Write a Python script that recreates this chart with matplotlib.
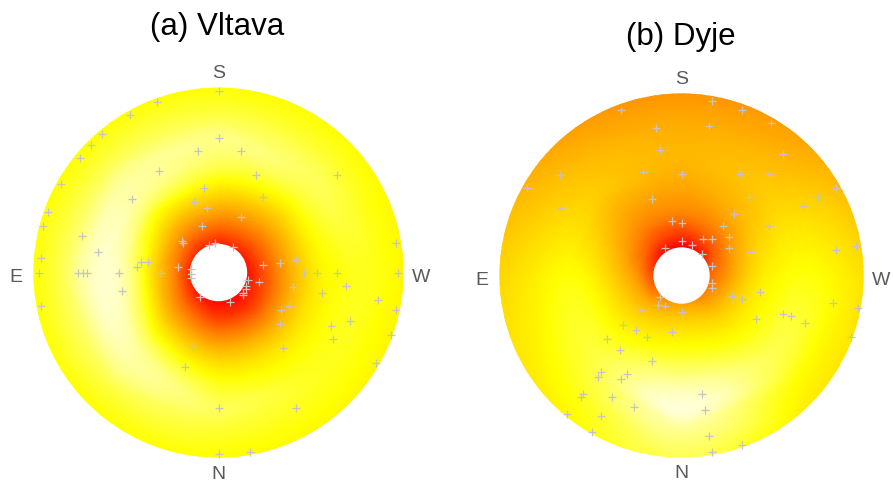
import numpy as np
import matplotlib
matplotlib.use("Agg")
import matplotlib.pyplot as plt
import matplotlib.tri as mtri
from matplotlib.colors import LinearSegmentedColormap
from matplotlib.patches import Circle

plt.rcParams["font.family"] = ["Liberation Sans", "DejaVu Sans"]

# =============================================================================
# DATA
# =============================================================================
# field values read on rings (radius, outer disc = 1) at 8 directions
# (degrees counter-clockwise from W, so 90 = S at top, 180 = E on the left)
angles_deg = [0, 45, 90, 135, 180, 225, 270, 315]
ring_r = [0.155, 0.25, 0.35, 0.45, 0.55, 0.65, 0.75, 0.85, 1.1]

vltava_field = [
    [0.05, 0.25, 0.45, 0.61, 0.72, 0.76, 0.78, 0.77, 0.70],
    [0.10, 0.30, 0.48, 0.63, 0.76, 0.83, 0.84, 0.80, 0.71],
    [0.10, 0.33, 0.52, 0.68, 0.81, 0.87, 0.88, 0.82, 0.71],
    [0.12, 0.37, 0.57, 0.74, 0.88, 0.92, 0.89, 0.82, 0.71],
    [0.12, 0.42, 0.64, 0.85, 0.95, 0.96, 0.91, 0.83, 0.71],
    [0.08, 0.32, 0.53, 0.72, 0.86, 0.92, 0.89, 0.82, 0.71],
    [0.03, 0.20, 0.42, 0.60, 0.73, 0.81, 0.84, 0.80, 0.71],
    [0.02, 0.18, 0.40, 0.58, 0.70, 0.76, 0.78, 0.77, 0.70],
]

dyje_field = [
    [0.30, 0.45, 0.60, 0.70, 0.74, 0.76, 0.75, 0.72, 0.62],
    [0.08, 0.30, 0.45, 0.54, 0.58, 0.60, 0.58, 0.55, 0.46],
    [0.00, 0.22, 0.40, 0.47, 0.52, 0.54, 0.53, 0.50, 0.40],
    [0.05, 0.28, 0.42, 0.50, 0.56, 0.60, 0.58, 0.55, 0.45],
    [0.22, 0.45, 0.58, 0.68, 0.74, 0.75, 0.72, 0.68, 0.60],
    [0.40, 0.55, 0.66, 0.74, 0.80, 0.82, 0.80, 0.77, 0.68],
    [0.48, 0.62, 0.72, 0.80, 0.88, 0.95, 0.97, 0.90, 0.80],
    [0.40, 0.55, 0.66, 0.74, 0.80, 0.84, 0.82, 0.76, 0.66],
]

# events (x: towards W, y: towards S, disc radius = 1)
vltava_x = [0.00, -0.33, -0.48, -0.63, -0.69, 0.00, -0.11, -0.75, -0.32, -0.85,
            -0.08, -0.47, -0.13, -0.06, -0.92, -0.09, -0.95, -0.74, -0.20, -0.19,
            -0.05, -0.02, -0.65, -0.96, -0.42, -0.38, -0.44, -0.22, -0.15, -0.15,
            -0.15, -0.97, -0.76, -0.73, -0.71, -0.54, -0.31, 0.12, 0.20, 0.64,
            0.24, 0.12, 0.08, 0.96, 0.24, 0.33, 0.42, 0.46, 0.53, 0.64,
            0.97, 0.16, 0.15, 0.15, 0.13, 0.13, 0.22, 0.40, 0.56, 0.69,
            0.86, 0.96, 0.38, 0.34, 0.71, 0.33, 0.61, 0.93, 0.62, 0.35,
            0.85, 0.42, 0.17, -0.52, -0.96, -0.10, 0.06, -0.14, -0.18, 0.00,
            0.00]
vltava_y = [0.98, 0.92, 0.85, 0.75, 0.69, 0.73, 0.66, 0.62, 0.55, 0.48,
            0.46, 0.40, 0.38, 0.35, 0.33, 0.25, 0.25, 0.20, 0.17, 0.16,
            0.15, 0.16, 0.11, 0.08, 0.06, 0.06, 0.03, 0.03, 0.02, -0.01,
            -0.03, 0.00, 0.00, 0.00, 0.00, 0.00, 0.00, 0.66, 0.53, 0.53,
            0.41, 0.30, 0.14, 0.16, 0.04, 0.05, 0.07, 0.00, 0.00, 0.00,
            0.00, -0.04, -0.07, -0.09, -0.11, -0.12, -0.05, -0.08, -0.11, -0.07,
            -0.15, -0.20, -0.18, -0.20, -0.26, -0.28, -0.29, -0.34, -0.36, -0.41,
            -0.49, -0.73, -0.97, -0.10, -0.18, -0.13, -0.16, -0.40, -0.51, -0.73,
            -0.98]

dyje_x = [0.29, -0.05, 0.00, 0.23, 0.00, 0.12, 0.17, 0.26, 0.26, 0.06,
          -0.09, 0.11, 0.17, 0.17, 0.17, 0.28, 0.33, -0.12, -0.13, -0.09,
          -0.22, 0.00, -0.32, -0.25, -0.05, -0.33, -0.14, -0.12, -0.21, 0.00,
          -0.67, -0.85, -0.16, -0.66, 0.17, 0.33, 0.49, 0.15, 0.56, 0.32,
          0.48, 0.85, 0.37, 0.75, 0.67, 0.48, 0.38, 0.85, 0.96, -0.19,
          -0.41, -0.34, -0.16, -0.44, -0.46, -0.30, -0.33, -0.54, -0.55, -0.38,
          -0.26, -0.63, -0.44, -0.49, 0.43, 0.41, 0.56, 0.60, 0.68, 0.83,
          0.97, 0.93, 0.11, 0.13, 0.15, 0.33, 0.17]
dyje_y = [0.34, 0.30, 0.29, 0.27, 0.19, 0.20, 0.20, 0.21, 0.15, 0.17,
          0.15, 0.12, 0.05, -0.04, -0.07, -0.11, -0.13, -0.12, -0.16, -0.17,
          -0.19, -0.20, -0.27, -0.30, -0.31, 0.91, 0.81, 0.69, 0.57, 0.56,
          0.55, 0.48, 0.42, 0.37, 0.96, 0.91, 0.84, 0.82, 0.67, 0.56,
          0.56, 0.48, 0.43, 0.43, 0.38, 0.27, 0.13, 0.14, 0.16, -0.34,
          -0.35, -0.41, -0.47, -0.53, -0.56, -0.54, -0.57, -0.65, -0.67, -0.67,
          -0.72, -0.76, -0.77, -0.86, -0.09, -0.24, -0.21, -0.22, -0.26, -0.15,
          -0.18, -0.34, -0.65, -0.74, -0.88, -0.93, -0.97]

titles = ["(a) Vltava", "(b) Dyje"]
compass = ["S", "N", "E", "W"]

# =============================================================================
# STYLE
# =============================================================================
hole_r = 0.155
heat = LinearSegmentedColormap.from_list(
    "heat", [(0.0, "#ff0000"), (0.75, "#ffff00"), (1.0, "#fffff0")]
)
label_color = "#5a5a5a"
cross_color = "#c4c4c4"


def draw_panel(ax, field, px, py):
    na, nr = len(angles_deg), len(ring_r)
    th = np.deg2rad(angles_deg)
    R, TH = np.meshgrid(ring_r, th)
    x = (R * np.cos(TH)).ravel()
    y = (R * np.sin(TH)).ravel()
    z = np.asarray(field, dtype=float).ravel()

    tris = []
    for i in range(na):
        i2 = (i + 1) % na
        for j in range(nr - 1):
            a, b = i * nr + j, i * nr + j + 1
            c, d = i2 * nr + j, i2 * nr + j + 1
            tris += [[a, b, d], [a, d, c]]
    tri = mtri.Triangulation(x, y, tris)

    interp = mtri.CubicTriInterpolator(tri, z, kind="geom")
    tri_f, z_f = mtri.UniformTriRefiner(tri).refine_field(
        z, triinterpolator=interp, subdiv=4)

    mesh = ax.tripcolor(tri_f, z_f, shading="gouraud", cmap=heat,
                        vmin=0, vmax=1, zorder=1)
    disc = Circle((0, 0), 1.0, transform=ax.transData)
    mesh.set_clip_path(disc)

    ax.add_patch(Circle((0, 0), hole_r, facecolor="white",
                        edgecolor="none", zorder=2))
    ax.plot(px, py, "+", color=cross_color, ms=5.5, mew=0.9, zorder=3)

    # compass letters
    pos = [(0, 1.05), (0, -1.115), (-1.095, -0.05), (1.095, -0.05)]
    for lab, (tx, ty) in zip(compass, pos):
        ax.text(tx, ty, lab, ha="center", va="baseline", fontsize=14,
                color=label_color, clip_on=False)

    ax.set_xlim(-1.05, 1.05)
    ax.set_ylim(-1.05, 1.05)
    ax.axis("off")


# =============================================================================
# FIGURE
# =============================================================================
fig = plt.figure(figsize=(8.93, 4.86), dpi=100)

ax_a = fig.add_axes([0.0272, 0.0396, 0.435, 0.799])
ax_b = fig.add_axes([0.5492, 0.0399, 0.428, 0.7864])

draw_panel(ax_a, vltava_field, vltava_x, vltava_y)
draw_panel(ax_b, dyje_field, dyje_x, dyje_y)

fig.text(217 / 893, 1 - 35 / 486, titles[0], ha="center", va="baseline",
         fontsize=22.5)
fig.text(681 / 893, 1 - 45 / 486, titles[1], ha="center", va="baseline",
         fontsize=22.5)

fig.savefig("out.png", dpi=100)
